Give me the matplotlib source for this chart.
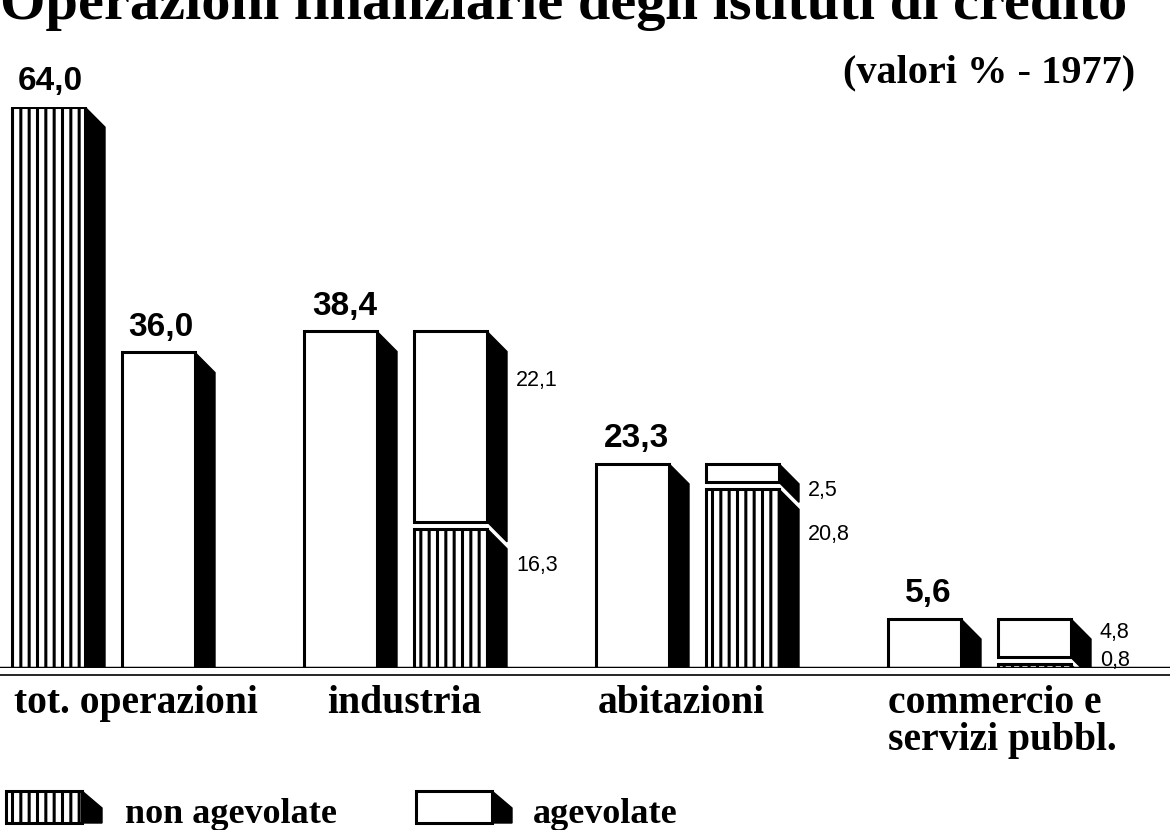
import matplotlib
matplotlib.use("Agg")
import matplotlib.pyplot as plt
from matplotlib.patches import Polygon, Rectangle

# data (valori % - 1977)
categories = ["tot. operazioni", "industria", "abitazioni", "commercio e\nservizi pubbl."]
tot_non_agevolate = 64.0
tot_agevolate = 36.0
sector_totals = [38.4, 23.3, 5.6]
sector_non_agevolate = [16.3, 20.8, 0.8]
sector_agevolate = [22.1, 2.5, 4.8]

plt.rcParams["hatch.linewidth"] = 2.2

SERIF = ["Liberation Serif", "DejaVu Serif"]
SANS = ["Liberation Sans", "DejaVu Sans"]

W = 73        # front face width
D = 20        # side depth (x)
DY = 2.3      # side drop (y units)
GAP = 0.8     # white gap between stacked segments
group_left = [12 + 292 * i for i in range(4)]
second_offset = 110
# where the side labels sit, below the top of their segment
upper_drop = [5.6, 3.0, 1.5]
lower_drop = [4.6, 5.6, -0.1]


def fmt(v):
    return f"{v:.1f}".replace(".", ",")


def box(ax, x, y0, y1, hatched):
    ax.bar(x, y1 - y0, bottom=y0, width=W, align="edge", facecolor="white",
           edgecolor="black", linewidth=2.2, hatch="||" if hatched else None, zorder=2)
    xr = x + W
    side = Polygon([(xr, y1), (xr + D, y1 - DY), (xr + D, y0 - DY), (xr, y0)],
                   closed=True, facecolor="black", edgecolor="black", linewidth=1, zorder=2)
    ax.add_patch(side)


fig = plt.figure(figsize=(11.7, 8.3), dpi=100)
ax = fig.add_axes([0, 162 / 830, 1, 561 / 830])
ax.set_xlim(0, 1170)
ax.set_ylim(0, 64)
ax.axis("off")

# group 1: total operations split
x1 = group_left[0]
x2 = group_left[0] + second_offset
box(ax, x1, 0, tot_non_agevolate, True)
box(ax, x2, 0, tot_agevolate, False)
for x, v in [(x1, tot_non_agevolate), (x2, tot_agevolate)]:
    ax.text(x + W / 2 + 2, v + 1.1, fmt(v), ha="center", va="bottom",
            fontsize=24, fontweight="bold", family=SANS)

# sector groups
for i, (tot, na, ag) in enumerate(zip(sector_totals, sector_non_agevolate, sector_agevolate)):
    xa = group_left[i + 1]
    xb = xa + second_offset
    box(ax, xa, 0, tot, False)
    ax.text(xa + W / 2 + 4, tot + 1.1, fmt(tot), ha="center", va="bottom",
            fontsize=24, fontweight="bold", family=SANS)
    box(ax, xb, 0, na - GAP / 2, True)
    box(ax, xb, na + GAP / 2, tot, False)
    xl = xb + W + D + 9
    ax.text(xl, tot - upper_drop[i], fmt(ag), ha="left", va="center",
            fontsize=15.5, family=SANS)
    ax.text(xl, na - lower_drop[i], fmt(na), ha="left", va="center",
            fontsize=15.5, family=SANS)

# baseline
ax.axhline(0, color="black", linewidth=2.5, zorder=3)
ax.axhline(-0.85, color="black", linewidth=1.2, clip_on=False, zorder=3)

# category labels
label_x = [group_left[0] + 2, group_left[1] + 100, group_left[2] + 85, group_left[3]]
label_ha = ["left", "center", "center", "left"]
for lab, x, ha in zip(categories, label_x, label_ha):
    ax.text(x, -1.9, lab, ha=ha, va="top", fontsize=28.5, fontweight="bold",
            family=SERIF, linespacing=1.0)

# title and subtitle
fig.text(0.0, 1 - 19 / 830, "Operazioni finanziarie degli istituti di credito",
         ha="left", va="baseline", fontsize=42, fontweight="bold", family=SERIF)
fig.text(1135 / 1170, 1 - 82 / 830, "(valori % - 1977)", ha="right", va="baseline",
         fontsize=29, fontweight="bold", family=SERIF)

# legend
lg = fig.add_axes([0, 0, 1, 1])
lg.set_xlim(0, 1170)
lg.set_ylim(830, 0)
lg.axis("off")
lg.patch.set_alpha(0)
for x0, hatched, text in [(6, True, "non agevolate"), (416, False, "agevolate")]:
    lg.add_patch(Rectangle((x0, 791), 76, 32, facecolor="white", edgecolor="black",
                           linewidth=2.2, hatch="||" if hatched else None))
    lg.add_patch(Polygon([(x0 + 76, 791), (x0 + 96, 808), (x0 + 96, 823), (x0 + 76, 823)],
                         closed=True, facecolor="black", edgecolor="black"))
    lg.text(x0 + 119 if hatched else x0 + 117, 823, text, ha="left", va="baseline",
            fontsize=26, fontweight="bold", family=SERIF)

fig.savefig("out.png", dpi=100)
